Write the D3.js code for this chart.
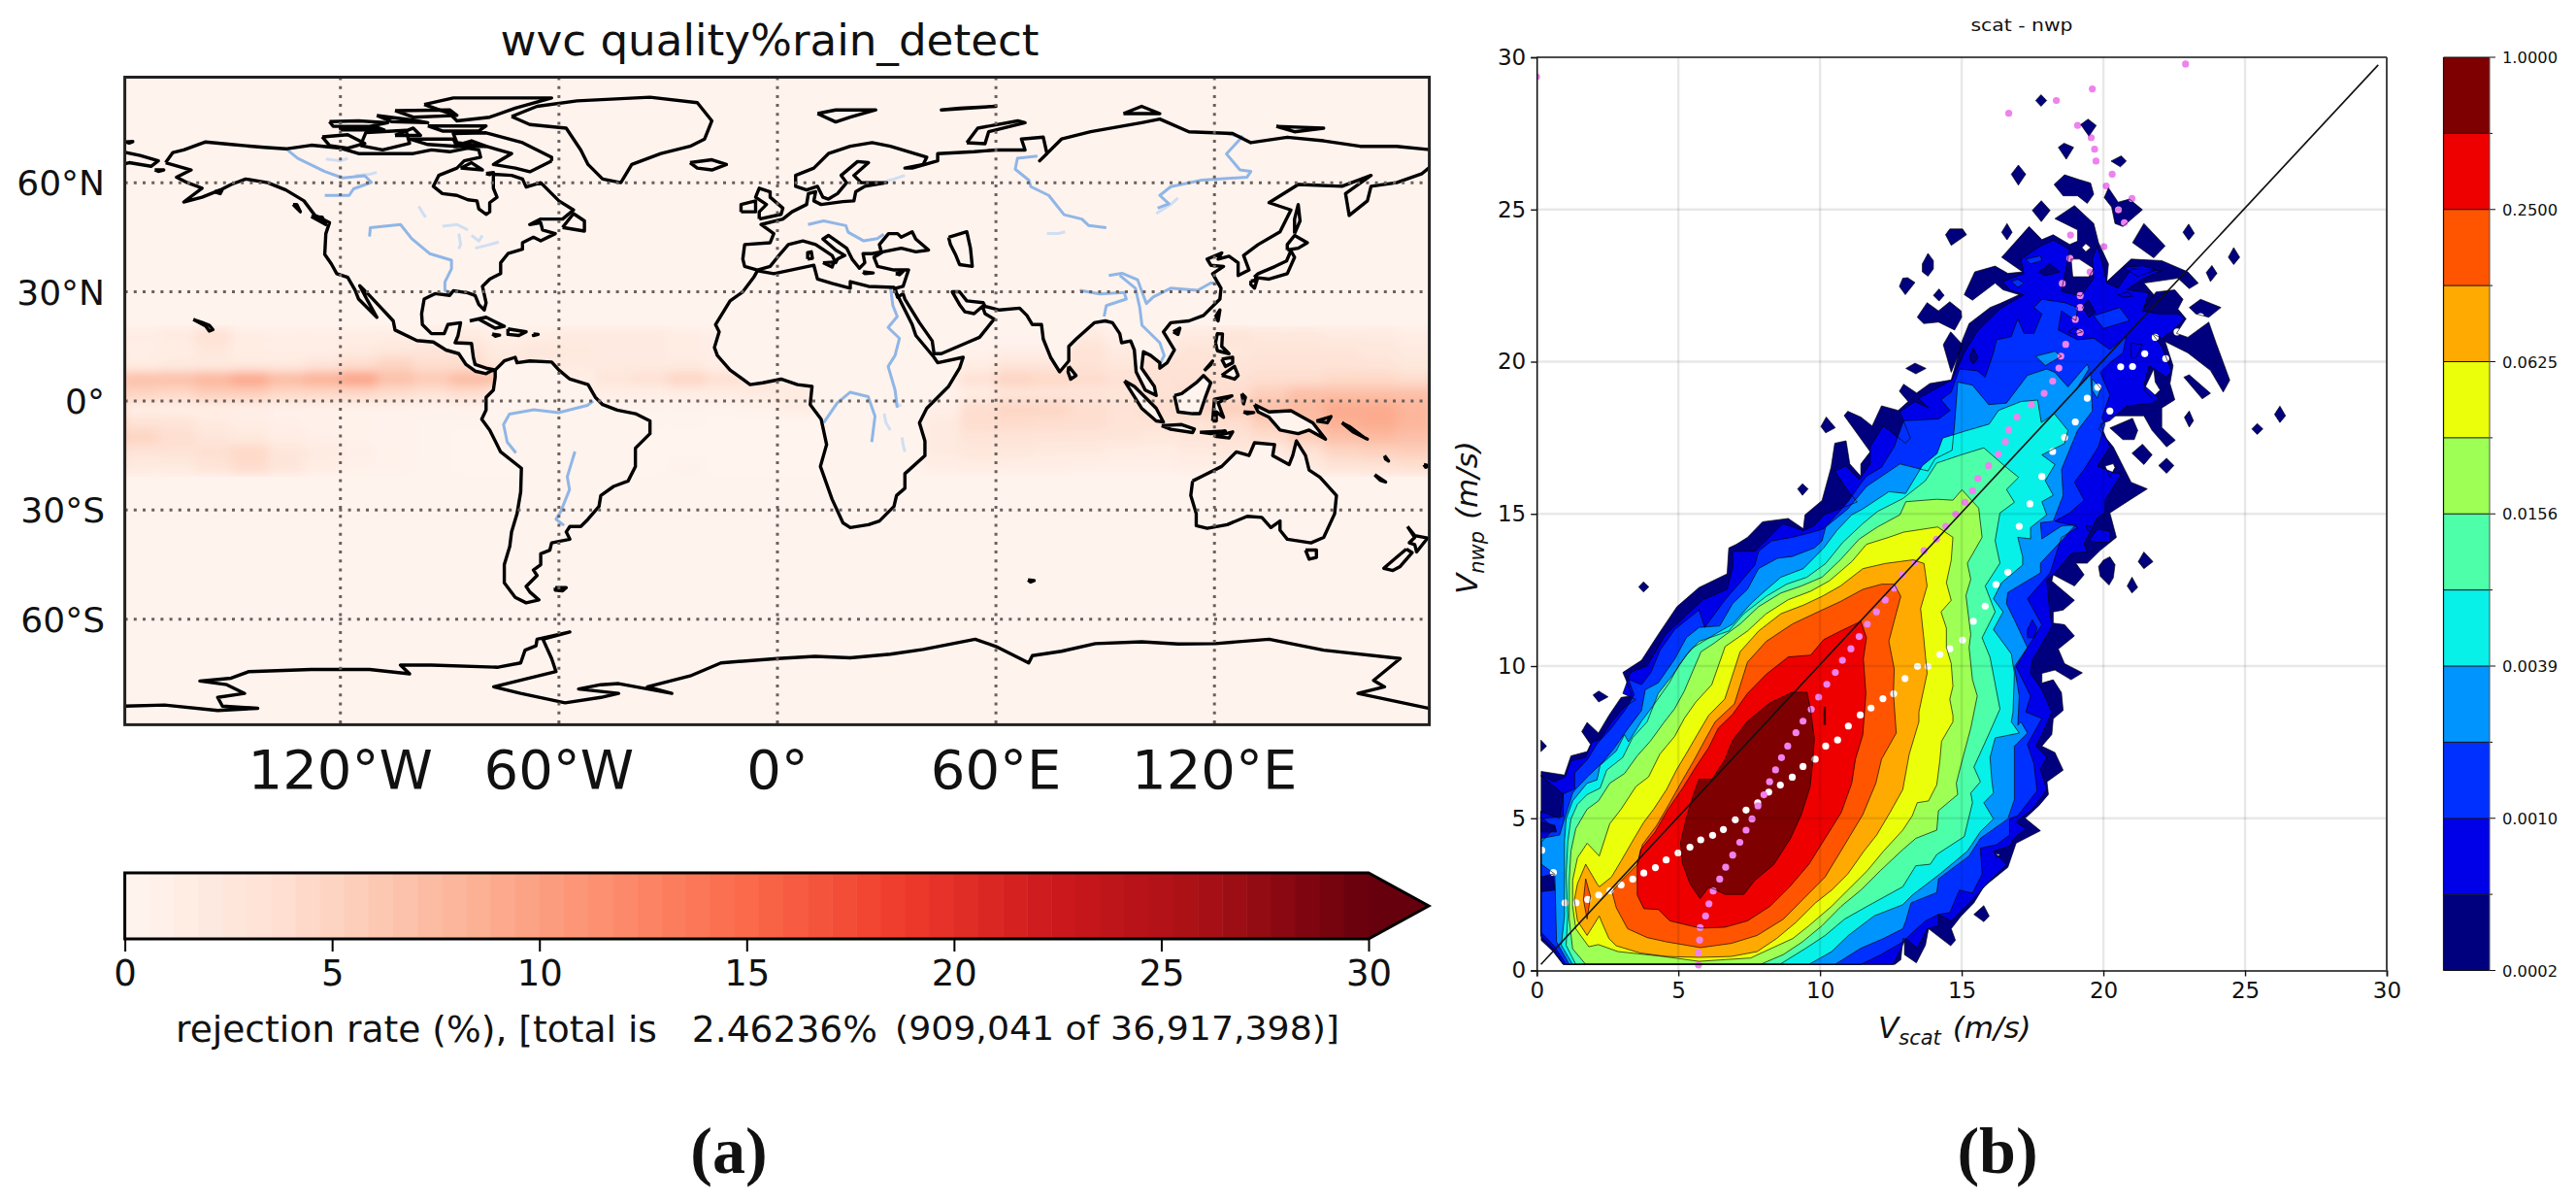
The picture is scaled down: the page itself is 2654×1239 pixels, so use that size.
<!DOCTYPE html>
<html>
<head>
<meta charset="utf-8">
<title>rain detect rejection and scat - nwp density</title>
<script src="https://cdn.jsdelivr.net/npm/d3@7"></script>
<style>
  html, body { margin: 0; padding: 0; background: #fff; }
  svg { display: block; }
  text { font-family: "DejaVu Sans", sans-serif; fill: #111; }
</style>
</head>
<body>
<svg id="chart" width="2654" height="1239"></svg>
<script>
// ---------- panel (a) data ----------
const lonTicks = [-120, -60, 0, 60, 120];
const latTicks = [60, 30, 0, -30, -60];
const rejectTicks = [0, 5, 10, 15, 20, 25, 30];
const redsStops = ["#fff5f0", "#fee0d2", "#fcbba1", "#fc9272", "#fb6a4a", "#ef3b2c", "#cb181d", "#a50f15", "#67000d"];

// rejection rate (%) in 10 degree by 4 degree boxes of the tropical belt
const rateLons = d3.range(-175, 180, 10);
const rateLats = [18, 14, 10, 6, 2, -2, -6, -10, -14, -18];
const rateRows = [
  [1.5,2,3.5,1.5,1.2,1.2,1.5,1.5,2,2,1.2,1.5,2,2,2,1.5,1,.3,.2,.2,.2,.2,.3,.3,.3,.3,2,1,1.2,2,3,2.5,2.5,2,2,1.5],
  [1.2,1.5,2.5,1.5,1.2,1.2,2,2.5,2.8,3.2,2,2.5,2.2,2,2,1.5,1,.3,.2,.2,.2,.2,.3,.6,1,1,3.2,2,2,3,2.5,2.8,2.8,2.8,2.5,2],
  [1.5,2,2,2,2,2.8,4,5,4,4,2.5,2,2,2,2,2,1.2,.6,.2,.2,.2,.2,.6,1.5,2.8,2.8,3.2,2.5,3.2,3.2,3,3.2,3.2,3.2,3,2.4],
  [7,7,8,9.5,7.5,8.5,10,7,6,7.5,7,1.2,1.2,2.8,3.5,4.8,3.8,2.8,1,.2,.2,.3,1,3.5,5,4.5,4.2,3.5,3.5,3.5,3.5,4,4,4.5,4.5,4],
  [5,4.5,5.5,5.5,4.5,4.5,4.5,4,3.2,4,2,.6,1,1.2,1.2,1.5,1.5,2,2,.6,.3,.3,.6,1.5,2.8,2.8,2.8,2.8,3.2,4,4,5.5,7,7,7,7],
  [1.2,1.2,1.2,1,.7,.7,.6,.6,.5,.5,.3,.3,.3,.3,.3,.3,.3,.6,1.5,.6,.3,.3,1,4,4.8,4.8,4,3.2,4,4.8,5.5,7,7.5,9,9,8],
  [3.2,3,2,1.5,1,.7,.6,.5,.3,.3,.2,.2,.2,.2,.3,.3,.2,.2,.2,.2,.2,.2,2,4,4.2,4,4,3.2,3.2,3.2,4,5.5,7,8.5,9,8],
  [5,4,2.8,2.2,1.5,1,.6,.5,.3,.2,.2,.2,.2,.2,.2,.2,.2,.2,.2,.2,.2,.3,2,3,3,3,2.8,2.8,2.4,2.8,3.2,4,5.5,7,7.5,7],
  [3,3.2,3.8,4.5,2.8,2,1,.6,.3,.2,.2,.2,.2,.2,.2,.2,.2,.2,.2,.2,.2,.6,2,2.5,2.5,2,2,1.5,1.5,2,2.5,2,3.2,4.8,5.2,5.5],
  [2,2,3,4.2,2.8,1.5,.7,.5,.3,.2,.2,.2,.2,.2,.2,.5,.2,.2,.2,.2,.2,.3,1.2,1.5,1.2,1.2,1,1,1,1.2,1.2,1,2,3,3.2,3.8]
];

// coastlines, lon/lat
const northAmerica = [[-168,65.5],[-166,68.3],[-163,69],[-157,71.2],[-150,70.5],[-141,69.7],[-135,69.3],[-128,70.3],[-120,69.5],[-115,68],[-108,68],[-100,68],[-95,69],[-90,68.5],[-85,69.5],[-82,69],[-81.5,67],[-86,66],[-88,64],[-93,62],[-94.5,59],[-92,57],[-88,56.5],[-85,55.3],[-82.5,55],[-82,52.8],[-80,51.3],[-79,52],[-79,54.5],[-77,56],[-78,58.5],[-78,62.3],[-73,62],[-70,61],[-69,58.8],[-65,60],[-62,57],[-60,55],[-56,52.5],[-59,50],[-65,50],[-68,48.5],[-65,49],[-64.5,47],[-61,46],[-65,44],[-67,45],[-70,43.5],[-70,41.7],[-74,40.5],[-76,38],[-76,35],[-79,33.5],[-81,31.5],[-80,27],[-80.5,25],[-82,26.5],[-83,29],[-85,29.7],[-89,30.3],[-90,29],[-94,29.5],[-97,28],[-97.7,24],[-97.5,21],[-95,18.5],[-91.5,18.5],[-90.5,21],[-87,21.5],[-87.7,18],[-88.5,16],[-84,15.8],[-83.5,12],[-83,10],[-80,9],[-77.5,8.5],[-78.5,8.3],[-80,7.5],[-83,8.2],[-85.5,10],[-87.5,13],[-91,14],[-94.5,16.2],[-99,16.6],[-105,19.5],[-105.5,22],[-109,25.8],[-112.5,29.5],[-114.7,31.7],[-112.5,27.5],[-110,23],[-112,25],[-115,28],[-116,30.5],[-118,34],[-121,35],[-122.5,37.7],[-124.3,40.3],[-124,46],[-123,49],[-127,51],[-130,55],[-135,58],[-140,60],[-146,61],[-150,59.5],[-153,58],[-158,56],[-163,54.7],[-158,58.5],[-162,60],[-165,61.5],[-161,63.5],[-168,65.5]];
const southAmerica = [[-77.5,8.5],[-75,11],[-72,12],[-71.5,10.5],[-68,11],[-62,10.7],[-60,8.5],[-57,6],[-52,4.5],[-50,1],[-48,-1],[-44,-2.5],[-39,-3.5],[-35,-5.5],[-35,-9],[-39,-13],[-39,-18],[-41,-22],[-45,-23.5],[-48.5,-26],[-49,-29],[-52,-32.5],[-54,-34.5],[-57,-34.5],[-58,-36],[-57,-38],[-62,-39],[-62.5,-41],[-65,-42],[-65,-45],[-67,-46.5],[-66,-48],[-69,-51],[-68,-52.5],[-65.5,-54.7],[-69,-55.5],[-72,-54],[-75,-50],[-75,-45],[-73.5,-40],[-73,-36],[-71.5,-31],[-70.5,-25],[-70.3,-18.5],[-76,-14],[-79,-8],[-81.2,-5],[-80,-2.5],[-80,1],[-78,3],[-77.5,6.5],[-77.5,8.5]];
const greenland = [[-73,78.2],[-66,81],[-55,82.5],[-35,83.5],[-22,82],[-18,77],[-20,72],[-24,70],[-32,68],[-40,65],[-43,60],[-48,61],[-52,65],[-54,69],[-58,75],[-68,76],[-73,78.2]];
const eurasia = [[-5.5,36],[-9,37],[-9.5,39],[-9,43],[-2,43.5],[-1,46],[-4.5,48.5],[1.5,50],[4,52],[8,54],[8.5,57],[10.5,57.5],[10,55],[12,54],[18,54.8],[21,55],[21.5,57.5],[24,59],[30,60],[23,60],[21,62],[25,65.5],[22,65.8],[17.5,62],[19,60],[16.5,57],[14,55.5],[12.5,56],[11,59],[8,58],[5,59],[5,62],[10,64],[14,68],[20,70],[26,71],[31,70],[41,67],[40,65],[35,64],[37,64],[44,66],[44,68],[54,68.5],[60,69],[68,69],[67,72],[73,72.5],[74,68],[72,66],[78,72],[86,74],[100,76.5],[105,77.5],[113,74],[125,73.5],[130,71],[140,72.5],[150,71.5],[160,70],[170,70],[180,69],[180,65],[177,62.5],[170,60],[163,59],[162,55],[157,51],[156,57],[163,62],[155,59],[143,59.5],[135,54.5],[141,52.5],[138,46.5],[132,43],[128,40],[129.5,36],[126.5,34.5],[126.5,38],[124,39.8],[121,39],[122,40.7],[118,39],[119,37.3],[122.5,37],[119.5,35],[121.8,31],[121.5,28],[117,23.5],[113,22],[108,21.5],[106,19],[109,14],[107,10.5],[105,9],[105,10.5],[102.5,12.5],[100.5,13.5],[100,9],[103.5,4],[104,1.5],[101,3],[98.5,8],[98,14],[97,16.5],[94.5,16],[94,18.5],[92,21.5],[90,22],[87,21.5],[82,17],[80,15],[80,11],[77.5,8],[75,12],[73,17],[72.5,21],[70,21],[68.5,23.5],[66.5,25.5],[61,25],[57,26],[56.5,27],[52,27.5],[50,30],[48,30],[50,26.5],[51.5,24.5],[54,24],[56.3,26],[57,24],[59.5,22.5],[55.5,17.5],[52,16],[45,13],[43,13],[42.5,16.5],[39,21.5],[35,28],[34.5,29.5],[33,28.5],[32.5,30],[32.5,31],[34.5,31.5],[36,36],[32,36],[27.5,37],[26.5,39.5],[29,41],[34,42],[38,41],[41.5,41.5],[38,44.5],[37,46.5],[34,45],[33,46],[30.5,46],[28,43],[28.5,41],[26,40.5],[23.5,40.5],[24,38],[22.5,36.5],[20.5,39],[19,42],[14,45.5],[12.5,44.5],[16,41.5],[18.5,40],[16.5,39],[16,38],[15,40],[10.5,43],[7,44],[3,43],[0,39.5],[-2,37],[-5.5,36]];
const chukotka = [[-180,68.5],[-175,67.5],[-170,66],[-172,64.5],[-178,65.5],[-180,65]];
const africa = [[-5.5,35.8],[-1,35],[10,37.3],[11,33.5],[15,32.3],[20,31],[20,32.8],[25,31.5],[32,31.2],[32.5,30],[34,27],[37,21],[38,18],[43,12],[44,10.5],[51,12],[50,9],[47,4],[41,-2],[39,-6],[40.5,-11],[40.5,-15],[35,-20],[35,-24],[32.7,-26],[32,-29],[28,-33],[25,-34],[20,-34.8],[18,-33.5],[15,-27],[11.8,-18],[13.5,-12],[12,-5],[9,-1],[9.5,4],[5.5,4.5],[1,6],[-4,5],[-7.5,4.5],[-13,8.5],[-16.5,12.5],[-17.3,14.7],[-16,19],[-17,21],[-13,27.5],[-9.5,30],[-6.5,34],[-5.5,35.8]];
const australia = [[114,-22],[113.5,-26],[115,-31],[115,-34.3],[118,-35],[123.5,-34],[129,-31.7],[133,-32],[135.5,-34.8],[138,-33],[138,-35.5],[140,-38],[146.5,-39],[150,-37.5],[153,-31],[153.5,-26],[149,-21],[146,-19],[145,-15],[142.5,-11],[141.5,-15],[140.5,-17.5],[136,-15],[136.5,-12],[131,-11.5],[129.5,-15],[126,-14],[122,-18],[117,-20.5],[114,-22]];
const antarctica = [[-179.2,-83.9],[-168.3,-83.6],[-153.7,-85.1],[-142.7,-84.5],[-152.4,-83.9],[-153.7,-81.5],[-146.3,-80.4],[-151.2,-78],[-158.6,-77],[-150,-76.2],[-145.1,-74.4],[-128,-73.8],[-112,-73.8],[-101,-75],[-103.5,-72.6],[-95,-72.6],[-76.7,-73.2],[-70.5,-72],[-69.3,-68.5],[-66.3,-67.3],[-66,-65.5],[-57,-63.5],[-64.4,-65.5],[-62,-70.8],[-60.8,-74.4],[-77.9,-78.6],[-70.5,-80.4],[-58.3,-83],[-48.5,-81.5],[-43.6,-80.4],[-54.6,-79.2],[-48.5,-78],[-43.6,-77.7],[-29,-80.4],[-35.7,-78.6],[-24,-75.6],[-15.5,-72],[0,-70.8],[10.3,-70.2],[20,-70.6],[31,-69.6],[40,-68.3],[54.3,-65.5],[60,-67.5],[69,-72],[70,-70],[78,-68.8],[87.3,-66.7],[100,-66.2],[110,-66.8],[120.3,-66.7],[135,-65.5],[150,-68.5],[171,-70.8],[163.7,-76.8],[166.7,-78.6],[159.4,-80.4],[179,-84.5]];
const islands = [
  [[-62,66],[-68,63],[-72,64],[-78,65],[-73,68],[-80,70],[-88,71],[-89,73.5],[-80,73.7],[-70,71],[-62,67],[-62,66]],
  [[-97,81.5],[-89,83.3],[-62,83.3],[-72,80.5],[-79,78],[-88,77],[-90,79],[-97,81.5]],
  [[-114.5,70.2],[-113,73.8],[-102,74.4],[-101,70.8],[-108.4,69],[-114.5,70.2]],
  [[-125,72.6],[-118,73.2],[-113.3,70.8],[-118,69.5],[-123,70.2],[-125,72.6]],
  [[-123,76.8],[-115,77],[-107,76.5],[-112,75.5],[-122,75.5],[-123,76.8]],
  [[-96,75.6],[-80,75.6],[-82,74.2],[-92,74.2],[-96,75.6]],
  [[-101,72],[-89,72],[-88,70],[-96,70.5],[-101,72]],
  [[-105,79.8],[-90,80],[-88,78.5],[-100,78],[-105,79.8]],
  [[-110,78.5],[-100,77.2],[-96,76.5],[-106,76.8],[-110,78.5]],
  [[-120,74.5],[-108,74.5],[-110,75.2],[-120,75.2],[-120,74.5]],
  [[-105,73],[-98,73],[-100,75],[-105,73]],
  [[-89,70],[-80,70],[-84,71.5],[-89,70]],
  [[-87,64],[-81,63.5],[-84,65.5],[-87,64]],
  [[-80,62.5],[-78,62.8],[-79,62.2],[-80,62.5]],
  [[-59,47.7],[-53,46.7],[-53,49.5],[-56,51.5],[-59,47.7]],
  [[-128,50.7],[-124,48.5],[-125,50.5],[-128,50.7]],
  [[-133,54],[-131,52],[-132,54],[-133,54]],
  [[-84.5,22],[-80,23],[-75,20.5],[-77.5,20],[-82,22.5],[-84.5,22]],
  [[-74,19.8],[-69,19],[-71,18],[-74,18.3],[-74,19.8]],
  [[-67,18.4],[-65.7,18.3],[-67,18],[-67,18.4]],
  [[-78.3,18.4],[-76.3,18.1],[-77.5,17.8],[-78.3,18.4]],
  [[-160.4,22.4],[-158,21.6],[-156,20.8],[-155,19.6],[-156,19.2],[-157,20.6],[-160.4,22.4]],
  [[-61,-51.3],[-58,-51.3],[-59,-52.2],[-61,-52],[-61,-51.3]],
  [[-154.5,57.5],[-152.5,58],[-153,57],[-154.5,57.5]],
  [[-171,63.5],[-168.5,63.5],[-170,63.1],[-171,63.5]],
  [[-179,71.2],[-177,71.3],[-178,70.9],[-179,71.2]],
  [[-5,50],[1,51.3],[1.5,53],[-2,56],[-2,57.5],[-5,58.5],[-6,56],[-3,54],[-5,52],[-5,50]],
  [[-10,52],[-6,52],[-6,55],[-10,54],[-10,52]],
  [[-24,65.5],[-18,66.3],[-14,65],[-18,63.5],[-22,64],[-24,65.5]],
  [[11,79],[16,80],[27,80],[20,78],[16,76.7],[11,79]],
  [[52,71],[57,70.7],[58,74],[68,76.5],[66,77],[55,75],[52,71]],
  [[95,79],[105,79],[100,81],[95,79]],
  [[137,75.5],[150,75],[142,74],[137,75.5]],
  [[50,80.5],[60,81],[45,80],[50,80.5]],
  [[8.3,39],[9.6,39.2],[9.3,41],[8.3,40.8],[8.3,39]],
  [[12.5,38],[15.5,38.2],[15,36.8],[12.5,38]],
  [[23.5,35.5],[26.3,35.2],[24,35],[23.5,35.5]],
  [[32.5,35],[34.5,35.6],[33.5,34.7],[32.5,35]],
  [[80,9.5],[82,7],[80.5,6],[79.8,8],[80,9.5]],
  [[130.9,34],[135,33.5],[140,35],[142,39.5],[141,41.3],[139.8,38.5],[136.7,37],[132,35],[130.9,34]],
  [[140,41.5],[143,42],[145.5,43.5],[142,45.5],[140,43],[140,41.5]],
  [[130,33],[131.7,33.3],[131,31],[130,32],[130,33]],
  [[142,46],[143.5,49.5],[143,54],[142,50],[142,46]],
  [[120.2,23],[121.5,25],[121,22],[120.2,23]],
  [[108.7,19],[110.5,20],[110,18.3],[108.7,19]],
  [[120.3,16],[120.8,18.5],[122.2,18.4],[122,15],[124,13],[120.8,13.8],[120.3,16]],
  [[122,7],[125.5,9.5],[126.5,7],[125.5,6],[124,6.5],[122,7]],
  [[122,11.5],[125,12],[125,10.5],[123,9.5],[122,11.5]],
  [[117.2,8.3],[119.5,11],[119,10],[117.2,8.3]],
  [[109,1.5],[111,2],[115,5],[117,7],[119,5],[117.5,1],[116,-3.5],[114,-3.5],[110,-3],[109,1.5]],
  [[95.3,5.5],[98,4],[104,-2],[106,-5.8],[104,-5.5],[100,-2],[95.3,5.5]],
  [[105.5,-6.8],[111,-6.5],[114.5,-7.7],[114,-8.7],[108,-7.8],[105.5,-6.8]],
  [[119.5,-5.5],[120,.5],[124.8,1.4],[121,-.5],[122.5,-4.5],[120.5,-3],[120.5,-5.5],[119.5,-5.5]],
  [[127.5,2],[128.5,1],[128,-.8],[127.5,2]],
  [[128,-3],[130.8,-3.2],[129,-3.5],[128,-3]],
  [[116,-8.6],[119,-8.5],[123,-8.3],[119,-9],[116,-8.6]],
  [[120,-9.7],[125,-8.5],[124,-10.2],[120,-9.7]],
  [[131,-1],[135,-3],[141,-2.7],[147,-6],[150.5,-10.5],[146,-8],[143,-9],[138,-8],[135,-4.5],[132,-3],[131,-1]],
  [[148,-5.5],[152,-4.3],[151,-6],[148,-5.5]],
  [[155,-6],[157,-7],[161,-10],[162,-10.5],[158,-8.5],[155,-6]],
  [[166.7,-15],[167.8,-16.5],[167,-16],[166.7,-15]],
  [[164,-20.3],[167,-22.3],[165.5,-21.8],[164,-20.3]],
  [[177.5,-17.5],[178.8,-17.8],[178,-18.2],[177.5,-17.5]],
  [[145,-41],[148,-41],[148,-43],[146,-43.5],[145,-41]],
  [[173,-34.5],[175,-37],[178.5,-37.7],[175.5,-41.5],[175,-39.5],[173.5,-39],[175,-37.5],[173,-34.5]],
  [[172.7,-40.7],[174.3,-41.7],[171,-45.5],[169,-46.6],[166.5,-46],[170,-43],[172.7,-40.7]],
  [[68.8,-49.2],[70.5,-49.4],[69.5,-49.8],[68.8,-49.2]],
  [[47,45],[52,46.5],[53,42],[53.5,37],[50,37.5],[49,40],[47.5,43],[47,45]]
];
const coastlines = [northAmerica, southAmerica, greenland, eurasia, chukotka, africa, australia, antarctica].concat(islands);

const rivers = [
  [[-135.3,69.6],[-131.7,66.7],[-124.3,63.1],[-119.4,61.3],[-113.3,61.9],[-111.5,60.1],[-116.4,58.3],[-117.6,56.5],[-124.3,56.5]],
  [[-112,45.2],[-111.8,47.6],[-103.5,48.5],[-100.4,44.6],[-95.5,40.5],[-89.5,38.7],[-89.5,36.3],[-91.3,32.7],[-91.3,30.4],[-89.5,29.8]],
  [[-50.6,0],[-52.2,-1.2],[-60.1,-3.2],[-66.9,-2.4],[-73.6,-3.6],[-75.2,-6.5],[-74.2,-11.3],[-71.8,-14.3]],
  [[-55.6,-13.9],[-57.7,-20.8],[-57.1,-24.4],[-59.5,-30.4],[-60.8,-32.5],[-58.6,-34.2]],
  [[8.4,48.5],[12.7,49.5],[18.8,48.2],[19.4,46.4],[23.7,44],[27.4,44.6],[29.2,45.8]],
  [[31,31.5],[31.7,26.2],[32.9,23.2],[30.4,20.2],[33.5,17.2],[32.3,12.5],[30.4,9.5],[32.3,3],[32.9,-1.8]],
  [[12.7,-6],[16.4,-.6],[20,2.4],[24.9,1.2],[26.8,-4.2],[25.9,-11.3]],
  [[71.4,67.3],[65.9,66.7],[65.3,63.7],[69,60.7],[69.6,58.9],[74.5,56.5],[78.7,51.2],[83.6,50],[85.5,48.2],[90.3,47.6]],
  [[123.3,73.5],[127.6,72.6],[123.3,67.9],[127,63.5],[130,63.1],[128.9,61.5],[116.6,60.7],[108,58.9],[105,56.5],[107.5,54.2],[104.4,53]],
  [[121.5,32.1],[119.1,32.5],[115.4,30.4],[108,31],[103.2,28.6],[101.3,26.8],[98.9,33.3],[94.6,35.1],[91,34.5]],
  [[94,34.5],[98.3,31],[99.5,25.6],[100.1,20.8],[105,16],[106.2,12.5],[105,10.1]],
  [[83,30.4],[88.5,29.4],[95.2,29.8],[95.8,28],[90.3,26.2],[89.7,23.2]]
];
const lakes = [
  [[-124,66.5],[-120,66],[-118,66.7]],
  [[-116,62],[-112,62.3],[-110,62.8]],
  [[-98.5,53.5],[-97,51],[-96.5,50.5]],
  [[-92,48],[-88,48.5],[-85,47]],
  [[-87.5,46],[-87,43],[-87.5,41.8]],
  [[-84,45.5],[-82,44],[-81,45.5]],
  [[-83,42],[-79,43],[-76.5,43.7]],
  [[30,60.5],[32,61],[35,62]],
  [[104,51.5],[108,54],[110,55.8]],
  [[74,46],[77,46],[79,46.5]],
  [[29.3,-3.5],[29.8,-6],[31,-8]],
  [[34.2,-10],[34.5,-12],[35,-14]],
  [[32,0],[33,-1.5],[34,-1]]
];

// ---------- panel (b) data ----------
const levelTicks = ["0.0002", "0.0010", "0.0039", "0.0156", "0.0625", "0.2500", "1.0000"];
const levelColors = ["#00007f", "#0000e8", "#0030ff", "#0094ff", "#07f1e8", "#4effaa", "#9eff55", "#ebff0a", "#ffaa00", "#ff5500", "#ee0000", "#7f0000"];

// filled contour outlines as [V_scat, V_nwp], lowest level first
const level1 = [[.16,.99],[.16,6.54],[.98,6.42],[1.21,7.05],[1.78,7.19],[1.9,7.43],[1.59,7.85],[1.78,8.15],[2.18,7.8],[2.55,8.38],[2.98,8.97],[3.36,9.02],[3.15,9.55],[3.04,9.79],[3.7,10.19],[4.29,11.04],[4.95,11.95],[5.73,12.58],[6.72,13.03],[6.78,13.88],[7.05,14],[7.44,14.23],[7.97,14.74],[8.88,14.85],[9.41,14.51],[9.47,14.97],[10.07,15.44],[10.39,16.53],[10.52,17.32],[10.92,17.4],[11.05,16.64],[11.44,16.24],[11.44,16.64],[11.77,17.04],[10.85,18.23],[10.98,18.37],[11.44,18.18],[11.84,17.89],[12.17,18.55],[12.76,18.4],[13.11,18.69],[12.8,19.03],[12.95,19.26],[13.41,18.97],[13.87,19.28],[14.63,19.4],[15.03,20.72],[15.26,21.25],[16,21.78],[16.35,21.91],[17.03,22.2],[16.46,22.36],[16.18,22.58],[15.38,22.02],[15.09,22.2],[15.46,22.95],[16.18,23.14],[16.63,22.9],[17.15,22.95],[16.41,23.43],[17.38,24.44],[17.83,24.01],[18.23,24.17],[18.81,23.85],[19.09,23.96],[19.09,24.33],[18.29,24.7],[18.98,25.13],[19.66,24.54],[19.83,23.91],[20.18,23.21],[20.12,22.63],[20.98,23.37],[22.06,23.32],[22.98,22.95],[23.35,22.58],[23.03,22.4],[22.63,22.74],[21.43,22.58],[21.78,22.2],[21.43,21.78],[21.86,22.29],[22.52,22.36],[22.81,22.05],[22.63,21.73],[22.92,21.41],[22.58,20.93],[22.98,20.8],[23.72,21.3],[23.98,20.61],[24.46,19.39],[24.23,19],[23.78,19.71],[22.98,20.29],[22.18,20.66],[22.46,19.87],[22.35,19.28],[22.52,18.75],[22.06,18.48],[22.06,17.84],[22.54,17.42],[22.23,17.2],[21.72,17.74],[21.43,18.22],[20.23,18.22],[19.83,17.79],[20.35,17.2],[20.69,16.57],[20.98,16.04],[21.55,15.82],[20.92,15.45],[20.23,15.03],[20.46,14.23],[19.89,13.8],[19.43,13.38],[19.03,13.38],[19.32,13],[18.98,12.63],[18.23,13],[18.18,12.79],[18.98,12.16],[18.58,11.84],[18.23,11.78],[18.23,11.41],[18.63,11.36],[18.98,10.99],[18.41,10.56],[18.63,10.08],[19.26,9.78],[18.86,9.55],[18.29,9.87],[17.83,9.76],[17.83,9.44],[18.23,9.55],[18.52,9.13],[18.58,8.54],[18.23,8.27],[18.18,7.75],[17.83,7.37],[18.29,7.16],[18.58,6.58],[18.01,6.2],[18.06,5.78],[17.72,5.41],[17.24,5],[17.78,4.59],[16.92,4.18],[16.63,3.39],[15.78,2.75],[15.43,2.22],[14.98,1.79],[14.63,1.37],[14.78,.99],[14.61,.81],[13.83,1.37],[13.72,.83],[13.4,.25],[12.98,.52],[12.98,1.05],[12.93,1.05],[12.85,.35],[12.64,.2],[.93,.2],[.58,.62]];
const level2 = [[.14,1.14],[.14,5.23],[.81,5],[.94,5.8],[.14,6.4],[.62,6.2],[1.01,6.37],[1.21,6.89],[1.73,7],[1.96,7.51],[2.24,7.59],[2.64,8.17],[3.1,8.65],[3.5,8.9],[3.04,9.1],[3.31,9.79],[3.9,10.01],[4.55,11.04],[5.21,11.61],[5.87,12.18],[6.72,12.52],[6.92,13.26],[6.92,13.77],[7.7,13.77],[8.69,14.68],[9.41,14.45],[9.8,14.62],[10.13,14.97],[11.31,15.39],[10.92,15.84],[10.52,16.41],[10.92,16.58],[11.38,16.13],[11.77,16.64],[11.77,17.21],[12.23,17.89],[13.02,17.32],[13.19,17.49],[12.82,18.35],[13.35,18.69],[13.84,18.48],[13.48,18.8],[14.66,19.4],[15.09,20.29],[15.55,21],[16.35,21.73],[17.2,22.2],[16.69,22.36],[16.46,22.63],[17.2,22.9],[17.09,23.37],[17.78,23.8],[18.23,23.99],[18.81,23.69],[18.69,23.11],[18.52,22.31],[19.21,22.15],[19.66,22.74],[19.61,23.37],[19.78,23.8],[19.95,23.27],[20.12,22.58],[20.52,22.42],[20.98,23.05],[22.06,23],[21.43,22.74],[20.81,22.37],[21.61,22.26],[21.38,21.67],[21.95,21.57],[22.63,21.57],[22.86,21.41],[22.46,21.03],[22.06,20.77],[21.72,20.93],[22.06,20.5],[22.4,19.71],[22.23,19.49],[21.61,19.87],[21.43,19.23],[21.95,18.8],[21.72,18.64],[20.81,18.54],[20.23,18.06],[19.89,17.95],[20.23,17.2],[19.78,16.57],[20.35,16.36],[20.63,16.3],[20.06,15.45],[20.06,15.03],[19.78,14.87],[19.32,14.02],[19.43,13.75],[18.86,13.7],[18.29,13.06],[18,12.85],[18.06,12.21],[18.18,11.3],[17.89,10.83],[17.49,10.19],[17.43,9.76],[17.83,9.23],[18.18,8.49],[17.83,7.75],[17.61,7.37],[18.01,7],[17.78,6.63],[18,5.94],[17.49,5.3],[16.92,4.88],[17.26,4.66],[16.83,4.34],[16.69,4.08],[16.12,3.92],[16.58,3.49],[16,2.96],[15.6,2.54],[14.8,1.79],[14.63,1.63],[14.18,1.84],[14.18,1.47],[13.78,1.37],[13.43,.73],[13.03,1.05],[12.58,.2],[.94,.2],[.62,.68]];
const level3 = [[.62,.8],[.16,1.25],[.16,4.21],[.62,4.67],[.22,5],[.94,5.06],[.94,5.8],[1.34,5.97],[1.34,6.49],[1.8,6.94],[2.13,7.45],[2.59,7.91],[3.11,8.54],[3.44,9.05],[3.24,9.56],[3.7,9.39],[4.03,9.79],[4.36,10.53],[4.88,11.21],[5.73,11.84],[5.93,11.27],[6.65,12.18],[7.18,12.75],[7.7,13.32],[7.83,13.77],[8.29,14.11],[9.02,14.23],[9.74,14.4],[10.13,14.51],[10.98,15.39],[11.45,16.01],[11.64,16.24],[12.17,16.53],[12.62,17.21],[12.95,18.06],[14.2,18.12],[14.59,18.4],[14.27,18.75],[14.63,19],[14.92,19.76],[15.55,19.7],[15.83,19.49],[16.12,20.29],[16.23,20.72],[16.75,20.82],[16.98,21.41],[17.2,20.93],[17.55,20.93],[17.83,21.57],[17.55,21.78],[17.83,22.05],[18.63,21.94],[19.09,21.78],[19.03,21.35],[18.52,21.67],[18.41,21.04],[19.09,20.72],[19.66,20.77],[20.23,20.4],[20.81,20.82],[20.69,20.29],[20.23,19.97],[19.89,19.65],[20.23,18.91],[19.95,18.16],[20.06,17.95],[19.83,17.21],[19.32,16.46],[18.98,16.04],[19.32,15.45],[18.81,15.03],[18.29,14.76],[18.98,14.6],[19.09,14.55],[18.52,14.23],[18.12,13.06],[17.32,12.21],[17.83,11.36],[17.32,10.61],[16.92,9.98],[17.43,9.02],[17.26,8.49],[17.83,8.28],[17.32,7.43],[17.55,6.79],[17.66,5.9],[16.98,5.09],[16.69,4.98],[16.69,4.45],[16.23,4.13],[15.66,4.02],[15.72,3.17],[15.38,2.54],[14.92,2.64],[14.58,1.9],[14.18,1.84],[13.72,1.63],[13.15,1.15],[12.93,.94],[12.13,.51],[11.44,.2],[1.04,.2]];
const level4 = [[1.15,.2],[.7,.94],[.64,3.17],[.16,3.49],[.16,4.34],[.81,4.45],[.98,4.98],[1.27,5.83],[1.34,5.92],[1.8,6.37],[2.32,6.83],[2.72,7.28],[3.24,7.97],[3.7,8.54],[3.83,9.22],[4.29,9.45],[4.88,10.24],[5.28,10.93],[5.73,11.27],[6.46,11.32],[6.92,12.06],[7.44,12.52],[7.83,13.2],[8.49,13.54],[9.02,13.6],[9.8,13.88],[10.07,14.11],[10.2,14.57],[10.98,15.16],[11.64,15.9],[12.82,16.64],[13.81,16.41],[14.06,16.81],[14.66,17.09],[14.75,17.95],[14.86,19.33],[15.38,19.23],[15.95,18.59],[16.58,18.64],[17.32,19.55],[18,19.76],[18.29,19.65],[18.75,19.17],[19.43,19.92],[19.49,19.76],[19.03,19.07],[19.55,19.65],[19.61,18.38],[19.09,17.74],[18.52,16.46],[18.58,15.61],[18.23,14.76],[17.78,14.71],[17.83,14.18],[18.52,14.6],[19.03,14.65],[18.52,14.12],[17.78,13.38],[17.78,13.06],[16.63,12.42],[16.58,12.05],[16.86,11.52],[17.32,10.61],[16.86,9.98],[17.03,9.02],[16.98,8.06],[17.09,8.17],[17.32,7.8],[16.86,7.37],[16.86,5.62],[16.63,4.98],[15.66,4.34],[15.26,3.76],[14.18,3.01],[14.12,2.56],[13.21,2.22],[13.03,1.63],[12.92,1.37],[12.24,1.05],[11.44,.73],[10.53,.2]];
const level5 = [[1.27,.2],[.87,.83],[.98,1.79],[.98,4.24],[1.04,4.98],[1.27,5.57],[1.78,6.15],[2.13,6.26],[2.24,6.74],[2.81,7.21],[3.1,7.75],[3.24,7.51],[3.7,8.19],[4.16,8.76],[4.68,9.45],[5.01,10.01],[5.47,10.58],[6.39,11.1],[6.92,11.38],[7.57,12.06],[7.97,12.4],[8.62,12.92],[9.41,13.2],[10.13,13.88],[10.59,14.45],[11.12,14.97],[11.51,15.16],[12.43,15.73],[13.02,15.67],[13.61,16.58],[14.13,16.98],[14.33,17.49],[15.12,17.72],[15.97,17.95],[16.3,18.4],[17.09,18.69],[17.68,18.74],[17.81,18],[18.27,18.29],[18.75,17.74],[18.63,17.31],[17.83,16.94],[18.29,16.62],[17.95,16.09],[18.23,15.61],[17.83,15.4],[18,14.97],[17.43,14.55],[17.43,14.18],[16.98,14.23],[17.15,13.59],[17.15,13.32],[16.41,12.74],[16.12,12.21],[16.46,11.78],[16.12,11.2],[16.75,10.4],[16.86,9.76],[16.81,8.49],[16.75,8.17],[17.03,7.8],[16.18,7.64],[16,7],[16.06,6.26],[16.12,5.83],[15.78,5.51],[16.12,4.98],[15.66,4.56],[15.2,3.92],[14.23,3.17],[13.26,2.48],[12.92,2.16],[11.9,1.79],[11,1.15],[10.41,.62],[9.61,.2]];
const level6 = [[1.38,.2],[1.04,.83],[1.1,1.79],[1.04,3.17],[1.1,4.24],[1.21,4.98],[1.44,5.46],[1.78,5.78],[2.24,5.99],[2.47,6.58],[3.04,7],[3.38,7.64],[3.9,8.17],[4.29,9.1],[4.82,9.73],[5.28,10.36],[5.73,10.81],[6.78,11.15],[7.31,11.72],[8.1,12.29],[8.82,12.69],[9.54,12.92],[10.2,13.37],[10.79,14.05],[11.51,14.68],[12.03,15.08],[12.92,15.5],[13.72,16.09],[14.12,16.67],[14.98,16.94],[15.78,17.17],[16.52,16.57],[17.01,16.2],[16.58,15.8],[16.86,15.38],[16.35,15.03],[16.18,14.12],[16.35,13.38],[15.83,12.63],[16.18,11.78],[15.72,10.93],[16,10.29],[16.35,8.59],[16,7.85],[15.43,6.68],[15.66,6.2],[15.32,5.83],[15.38,5.51],[15.09,4.4],[14.12,3.81],[13.89,3.49],[13.38,3.44],[12.92,2.75],[11.67,2.11],[10.87,1.69],[10.18,1.15],[9.5,.73],[8.58,.2]];
const level7 = [[1.73,.2],[1.27,.71],[1.15,1.68],[1.15,2.96],[1.21,3.92],[1.38,4.66],[1.78,5.3],[2.18,5.57],[2.58,6.15],[3.1,6.47],[3.55,7.05],[4.01,7.53],[4.47,8.12],[4.87,8.6],[5.21,9.18],[5.8,10.47],[6.26,10.75],[7.18,11.38],[7.83,11.95],[8.62,12.4],[9.34,12.63],[10.07,12.92],[10.72,13.49],[11.38,14.17],[12.03,14.57],[12.82,14.97],[13.03,15.4],[14.12,15.48],[14.69,15.45],[15.01,15.79],[15.6,15.19],[15.72,14.23],[15.2,13.38],[15.32,12.85],[15.15,12.32],[15.32,11.04],[15.26,10.61],[15.38,9.55],[15.55,9.02],[15.32,7.96],[15.03,6.95],[14.81,6.15],[14.86,5.78],[14.18,5.25],[14.12,4.61],[13.38,4.34],[12.92,3.97],[12.13,3.28],[11.44,2.64],[10.75,2.11],[10.07,1.47],[9.38,.94],[8.7,.52],[7.9,.2]];
const level8 = [[1.84,.78],[1.38,1.37],[1.27,2.11],[1.27,2.96],[1.44,3.7],[1.78,4.18],[2.21,3.76],[2.58,4.82],[2.98,5.3],[3.5,6.04],[3.95,6.36],[4.35,7.11],[4.87,7.69],[5.21,8.28],[5.61,8.81],[6.18,9.39],[6.65,10.64],[7.44,11.15],[8.1,11.72],[8.88,12.18],[9.67,12.46],[10.33,12.8],[11.12,13.43],[11.64,14],[12.43,14.23],[12.95,14.4],[14.15,14.57],[14.69,14.23],[14.63,13.48],[14.46,12.74],[14.63,12.16],[14.27,11.78],[14.46,11.25],[14.46,10.61],[14.63,10.08],[14.69,9.34],[14.58,8.91],[14.69,8.38],[14.69,8.17],[14.29,7.53],[14.23,6.9],[14.12,6.1],[13.83,5.57],[13.43,5.51],[13.26,5.09],[12.92,4.61],[12.24,3.92],[11.67,3.28],[10.98,2.64],[10.41,2.11],[9.61,1.47],[9.04,1.05],[7.55,.41],[5.73,.3],[4.47,.46],[2.87,.62],[2.18,.85]];
const level9 = [[2.21,1.79],[1.78,1.15],[1.44,1.63],[1.33,2.32],[1.44,2.85],[1.73,3.49],[2.13,2.85],[2.21,2.75],[2.64,3.07],[2.98,3.6],[3.44,4.34],[3.78,4.87],[4.13,5.3],[4.58,5.94],[4.93,6.58],[5.27,7.11],[5.67,7.75],[6.07,8.38],[6.64,8.92],[7.18,10.47],[7.83,11.15],[8.62,11.72],[9.41,12],[10.07,12.29],[10.72,12.63],[11.51,13.2],[12.3,13.37],[13.28,13.49],[13.67,13.37],[13.78,12.63],[13.55,11.89],[13.66,10.93],[13.78,9.76],[13.49,8.49],[13.49,8.17],[13.15,7.11],[12.92,5.94],[12.47,5.19],[12,4.45],[11.55,3.92],[10.98,3.17],[10.41,2.64],[9.84,2.22],[9.15,1.58],[8.47,1.05],[7.78,.62],[6.87,.46],[5.73,.43],[4.58,.46],[3.67,.57],[2.81,.81],[2.55,1.05],[2.3,1.58]];
const level10 = [[12.17,12.69],[12.62,12.69],[12.85,12.29],[12.62,11.49],[12.43,10.81],[12.62,9.9],[12.59,9.1],[12.69,7.8],[12.17,6.94],[11.97,6.15],[11.51,5.12],[10.87,4.13],[10.18,3.07],[9.38,2.32],[8.7,1.68],[7.78,1.15],[6.87,.89],[5.78,.75],[4.58,.94],[3.9,1.08],[3.21,1.37],[2.81,2.06],[2.66,2.59],[3,2.96],[3.56,3.49],[3.73,4.13],[4.24,4.77],[4.7,5.51],[5.15,6.26],[5.55,6.9],[5.95,7.59],[6.3,8.17],[6.98,8.76],[7.44,10.13],[8.1,10.81],[9.02,11.38],[9.93,11.78],[10.72,12.12],[11.51,12.52]];
const level10b = [[1.73,3.01],[1.9,2.43],[1.78,1.69],[1.65,2.32]];
const level11 = [[11.44,11.47],[11.64,10.93],[11.53,10.24],[11.62,9.1],[11.51,7.74],[11.25,6.94],[11.12,6.15],[10.75,5.19],[10.18,4.34],[9.61,3.49],[8.93,2.75],[8.24,2.11],[7.44,1.63],[6.64,1.42],[5.78,1.39],[4.7,1.63],[4.3,2],[3.78,2.03],[3.55,2.48],[3.55,3.49],[3.67,3.97],[4.18,4.55],[4.64,5.3],[5.15,5.99],[5.61,6.68],[6.07,7.32],[6.41,7.96],[6.92,8.42],[7.44,9.1],[8.1,9.73],[8.88,10.3],[9.67,10.36],[10.13,10.87],[10.72,11.15]];
const level12 = [[5.77,2.36],[5.41,2.85],[5.14,3.53],[5.08,4.21],[5.28,5.01],[5.54,5.8],[5.73,6.28],[6.19,6.28],[6.65,6.94],[6.92,7.57],[7.44,8.19],[8.23,8.79],[9.02,9.14],[9.54,9.14],[9.67,8.54],[9.8,7.62],[9.74,6.83],[9.65,6.03],[9.34,5.12],[8.95,4.32],[8.36,3.47],[7.7,2.96],[7.31,2.5],[6.65,2.5],[6.26,2.67],[6.06,2.73]];
const level12b = [[10.14,8.65],[10.19,8.65],[10.19,8.08],[10.14,8.08]];

// isolated specks at the lowest level
const specks = [
  [[17.61,28.58],[17.8,28.77],[18,28.58],[17.8,28.39]],
  [[19.2,27.79],[19.46,27.97],[19.75,27.76],[19.49,27.41]],
  [[18.41,27.04],[18.61,27.18],[18.95,27.04],[18.69,26.65]],
  [[20.27,26.59],[20.63,26.76],[20.81,26.59],[20.6,26.4]],
  [[16.75,26.16],[17,26.46],[17.26,26.16],[17,25.8]],
  [[18.26,25.82],[18.63,26.14],[19.15,25.98],[19.55,25.87],[19.66,25.5],[19.43,25.2],[19.09,25.45],[18.58,25.45]],
  [[20.03,25.39],[20.18,25.71],[20.52,25.24],[20.92,25.34],[21.38,24.99],[20.69,24.44],[20.41,24.54],[20.29,25.08]],
  [[17.49,24.97],[17.81,25.29],[18.12,24.97],[17.81,24.6]],
  [[16.41,24.25],[16.6,24.54],[16.78,24.25],[16.6,24]],
  [[14.43,24.17],[14.58,24.36],[15.03,24.36],[15.17,24.17],[14.63,23.82]],
  [[13.61,23.21],[13.81,23.56],[14,23.32],[14,23.05],[13.81,22.81],[13.61,22.95]],
  [[12.92,22.74],[13.09,22.76],[13.35,22.6],[13.01,22.2],[12.8,22.47]],
  [[14,22.18],[14.2,22.39],[14.38,22.18],[14.2,21.99]],
  [[13.43,21.46],[13.78,21.94],[14.18,21.67],[14.58,21.97],[14.98,21.67],[15,21.46],[14.75,21.04],[14.18,21.3],[13.66,21.25]],
  [[14.35,20.56],[14.61,20.98],[15.03,20.56],[14.63,19.65]],
  [[13.03,19.78],[13.35,19.95],[13.74,19.78],[13.38,19.6]],
  [[21.03,23.91],[21.43,24.54],[22.18,23.8],[21.78,23.41]],
  [[22.81,24.25],[23.01,24.52],[23.21,24.22],[23.01,23.99]],
  [[24.41,23.43],[24.6,23.75],[24.81,23.43],[24.6,23.19]],
  [[23.63,22.93],[23.83,23.16],[24.01,22.9],[23.78,22.63]],
  [[23.03,21.78],[23.43,22.05],[24.15,21.78],[23.72,21.46],[23.26,21.57]],
  [[22.84,19.49],[23.03,19.57],[23.78,18.96],[23.49,18.78]],
  [[22.86,18.17],[23.03,18.38],[23.18,18.06],[23.03,17.85]],
  [[26.04,18.27],[26.23,18.54],[26.43,18.22],[26.23,18]],
  [[25.24,17.79],[25.43,17.97],[25.63,17.79],[25.43,17.61]],
  [[20.23,17.82],[21.03,18.14],[21.21,17.74],[21.09,17.44],[20.69,17.44]],
  [[21.01,16.99],[21.38,17.29],[21.72,16.94],[21.43,16.62]],
  [[21.95,16.59],[22.23,16.83],[22.49,16.59],[22.23,16.33]],
  [[19.83,13.27],[20,13.48],[20.23,13.59],[20.41,13.33],[20.35,12.9],[20.2,12.66],[19.89,12.95]],
  [[21.23,13.43],[21.43,13.75],[21.75,13.43],[21.43,13.2]],
  [[20.84,12.63],[21.01,12.92],[21.21,12.58],[21.01,12.4]],
  [[15.43,1.84],[15.78,2.13],[15.97,1.79],[15.78,1.6]],
  [[3.6,12.6],[3.77,12.77],[3.96,12.6],[3.77,12.43]],
  [[1.99,9.05],[2.19,9.18],[2.52,8.99],[2.19,8.82]],
  [[.15,7.57],[.35,7.37],[.15,7.19]],
  [[9.21,15.82],[9.38,15.99],[9.58,15.82],[9.38,15.61]],
  [[10.03,17.87],[10.22,18.18],[10.54,17.83],[10.2,17.66]]
];
// gaps inside the lowest level
const holes = [
  [[18.86,23.37],[19.15,23.37],[19.66,23.06],[19.49,22.79],[18.92,22.79]],
  [[19.24,23.75],[19.38,23.88],[19.55,23.75],[19.38,23.61]],
  [[20.98,20.61],[21.38,20.56],[21.15,20.13],[20.98,20.13]],
  [[21.78,19.76],[21.83,19.33],[22,19.07],[21.72,18.8],[21.43,19.07]],
  [[20.52,22.2],[20.86,22.29],[21.03,22.15],[20.69,22.12]],
  [[18.75,20.98],[18.98,21.12],[19.26,20.98],[18.98,20.9]],
  [[20.06,16.57],[20.35,16.65],[20.41,16.52],[20.23,16.2]],
  [[19.38,14.6],[19.55,14.6],[19.46,14.44]],
  [[16.15,3.86],[16.35,3.81],[16.23,3.68]]
];
// small islands of one level on top of another: [level index, outline]
const patches = [
  [0, [[17.72,22.95],[18.12,23.22],[18.46,22.95],[17.95,22.82]]],
  [0, [[15.26,20.13],[15.41,20.45],[15.58,20.13],[15.41,19.92]]],
  [0, [[19.26,21.78],[19.46,22.04],[19.72,21.62],[19.49,21.46]]],
  [0, [[.16,4.87],[.64,4.77],[.7,4.55],[.16,4.55]]],
  [0, [[.16,3.07],[.58,3.17],[.64,2.64],[.16,2.59]]],
  [1, [[17.32,11.2],[17.49,11.52],[17.66,11.25],[17.55,10.93],[17.32,10.93]]],
  [1, [[19.49,14.12],[19.78,14.49],[20.23,14.44],[20.23,14.07],[19.78,14.07]]],
  [1, [[20.7,23.1],[21.4,23.15],[21.9,23.02],[21.2,22.8]]],
  [2, [[19.66,21.51],[20.58,21.78],[20.92,21.35],[20,21.09]]],
  [2, [[16.75,22.63],[16.98,22.71],[17.2,22.58],[16.98,22.44]]],
  [2, [[17.26,23.37],[17.78,23.48],[17.83,23.32],[17.43,23.21]]],
  [3, [[17.61,20.18],[18.29,20.34],[18.52,20.18],[17.95,19.87]]],
  [3, [[19.6,19.44],[19.91,19.12],[19.78,18.8],[19.6,19.07]]]
];

const whiteDots = [[.18,3.95],[.59,3.22],[1,2.22],[1.39,2.22],[1.8,2.33],[2.19,2.48],[2.59,2.62],[2.98,2.81],[3.39,3],[3.78,3.2],[4.19,3.38],[4.57,3.63],[4.99,3.86],[5.41,4.05],[5.79,4.29],[6.21,4.44],[6.59,4.63],[7.01,4.95],[7.39,5.27],[7.8,5.51],[8.19,5.86],[8.6,6.09],[9.02,6.35],[9.4,6.7],[9.83,6.94],[10.2,7.37],[10.62,7.57],[11,8.03],[11.42,8.39],[11.8,8.62],[12.22,8.93],[12.6,9.09],[13,9.59],[13.44,9.99],[13.81,9.99],[14.23,10.38],[14.58,10.57],[15.03,10.85],[15.41,11.47],[15.83,11.97],[16.21,12.68],[16.63,13.08],[17.03,14.59],[17.41,15.33],[17.83,16.23],[18.21,17.05],[18.63,17.51],[19.01,18.02],[19.43,18.8],[19.8,19.16],[20.23,18.38],[20.61,19.83],[21.03,19.84],[21.46,20.26],[21.83,20.8],[22.2,20.1],[22.6,20.98],[23.43,21.48]];
const violetDots = [[5.71,.18],[5.71,.58],[5.75,1],[5.77,1.41],[5.96,1.79],[6.08,2.19],[6.23,2.61],[6.46,3],[6.67,3.39],[6.92,3.79],[7.17,4.21],[7.39,4.61],[7.6,4.98],[7.81,5.41],[8.02,5.77],[8.22,6.2],[8.43,6.59],[8.64,6.99],[8.86,7.37],[9.15,7.81],[9.4,8.19],[9.69,8.58],[9.95,8.98],[10.24,9.4],[10.54,9.79],[10.79,10.19],[11.09,10.57],[11.38,10.97],[11.67,11.38],[11.99,11.78],[12.3,12.17],[12.62,12.56],[12.91,13],[13.35,13.39],[13.67,13.79],[14.11,14.17],[14.44,14.59],[14.79,14.99],[15.12,15.38],[15.38,15.76],[15.57,16.16],[15.95,16.58],[16.29,16.97],[16.54,17.37],[16.66,17.76],[16.95,18.18],[17.46,18.58],[17.91,18.96],[18.21,19.36],[18.43,19.79],[18.5,20.18],[18.67,20.57],[19.18,20.96],[19.01,21.39],[19.18,21.78],[19.18,22.17],[18.55,22.57],[19.53,22.95],[18.82,23.39],[20.02,23.78],[18.84,24.16],[20.74,24.57],[20.53,24.99],[21.01,25.36],[20.1,25.77],[20.31,26.16],[19.74,26.59],[19.69,26.98],[19.57,27.36],[19.09,27.76],[19.61,28.96],[18.34,28.58],[16.66,28.16],[0,29.36],[22.9,29.78]];

const speedTicks = [0, 5, 10, 15, 20, 25, 30];

// ---------- scales ----------
const lonScale = d3.scaleLinear().domain([-179.2, 179]).range([128.6, 1472.6]);
const latScale = d3.scaleLinear().domain([89, -89]).range([79.5, 746.4]);
const rejectScale = d3.scaleLinear().domain([0, 30]).range([128.6, 1410]);
const redsColor = d3.scaleLinear().domain(redsStops.map((d, i) => i * 30 / (redsStops.length - 1))).range(redsStops);
const xScale = d3.scaleLinear().domain([0, 30]).range([1583.2, 2459]);
const yScale = d3.scaleLinear().domain([0, 30]).range([999.5, 59]);
const levelScale = d3.scaleLinear().domain([0, levelColors.length]).range([999.5, 59]);

const svg = d3.select("#chart");
const defs = svg.append("defs");

// ---------- panel (a): map ----------
const mapW = lonScale.range()[1] - lonScale.range()[0];
const mapH = latScale.range()[1] - latScale.range()[0];
defs.append("clipPath").attr("id", "mapClip").append("rect")
  .attr("x", 128.6).attr("y", 79.5).attr("width", mapW).attr("height", mapH);
defs.append("clipPath").attr("id", "beltClip").append("rect")
  .attr("x", 128.6).attr("y", latScale(20.8)).attr("width", mapW).attr("height", latScale(-20.8) - latScale(20.8));
const blur = defs.append("filter").attr("id", "rateBlur")
  .attr("filterUnits", "userSpaceOnUse").attr("x", -200).attr("y", 0).attr("width", 2100).attr("height", 800);
blur.append("feGaussianBlur").attr("stdDeviation", 5.5);

const mapG = svg.append("g").attr("clip-path", "url(#mapClip)");
mapG.append("rect").attr("x", 128.6).attr("y", 79.5).attr("width", mapW).attr("height", mapH)
  .attr("fill", redsColor(0.3));

const geoLine = d3.line().x(d => lonScale(d[0])).y(d => latScale(d[1]));

// tropical belt, wrapped around so the blur does not fade at the map edges
const rateCells = [];
rateRows.forEach((row, r) => row.forEach((v, c) => {
  [-360, 0, 360].forEach(shift => rateCells.push({ lon: rateLons[c] + shift, lat: rateLats[r], v }));
}));
mapG.append("g").attr("clip-path", "url(#beltClip)")
  .append("g").attr("filter", "url(#rateBlur)")
  .selectAll("rect").data(rateCells).join("rect")
  .attr("x", d => lonScale(d.lon - 5))
  .attr("y", d => latScale(d.lat + 2))
  .attr("width", lonScale(5) - lonScale(-5) + 0.5)
  .attr("height", latScale(-2) - latScale(2) + 0.5)
  .attr("fill", d => redsColor(d.v));

// land carries no rejections
mapG.append("g").selectAll("path").data(coastlines).join("path")
  .attr("d", d => geoLine(d) + "Z")
  .attr("fill", redsColor(0.3));

mapG.append("g").selectAll("path").data(lakes).join("path")
  .attr("d", geoLine).attr("fill", "none").attr("stroke", "#cfdff2").attr("stroke-width", 3);
mapG.append("g").selectAll("path").data(rivers).join("path")
  .attr("d", geoLine).attr("fill", "none").attr("stroke", "#8fb6e6").attr("stroke-width", 3)
  .attr("stroke-linejoin", "round");
mapG.append("g").selectAll("path").data(coastlines).join("path")
  .attr("d", geoLine).attr("fill", "none").attr("stroke", "#000").attr("stroke-width", 3.4)
  .attr("stroke-linejoin", "round");

mapG.append("g").selectAll("line").data(lonTicks).join("line")
  .attr("x1", d => lonScale(d)).attr("x2", d => lonScale(d))
  .attr("y1", 79.5).attr("y2", 746.4);
mapG.append("g").selectAll("line").data(latTicks).join("line")
  .attr("y1", d => latScale(d)).attr("y2", d => latScale(d))
  .attr("x1", 128.6).attr("x2", 1472.6);
mapG.selectAll("g line").attr("stroke", "#6a605c").attr("stroke-width", 3).attr("stroke-dasharray", "3,6.2");

svg.append("rect").attr("x", 128.6).attr("y", 79.5).attr("width", mapW).attr("height", mapH)
  .attr("fill", "none").attr("stroke", "#222").attr("stroke-width", 3);

svg.append("text").attr("x", 793).attr("y", 57).attr("text-anchor", "middle")
  .attr("font-size", 44).attr("textLength", 555).attr("lengthAdjust", "spacingAndGlyphs")
  .text("wvc quality%rain_detect");

const lonLabel = d => d === 0 ? "0°" : Math.abs(d) + (d < 0 ? "°W" : "°E");
const latLabel = d => d === 0 ? "0°" : Math.abs(d) + (d > 0 ? "°N" : "°S");
svg.append("g").selectAll("text").data(lonTicks).join("text")
  .attr("x", d => lonScale(d)).attr("y", 812).attr("text-anchor", "middle")
  .attr("font-size", 56).text(lonLabel);
svg.append("g").selectAll("text").data(latTicks).join("text")
  .attr("x", 108).attr("y", d => latScale(d) + 13).attr("text-anchor", "end")
  .attr("font-size", 36).text(latLabel);

// colour bar of panel (a)
const segCount = 51;
const segW = (rejectScale(30) - rejectScale(0)) / segCount;
svg.append("g").selectAll("rect").data(d3.range(segCount)).join("rect")
  .attr("x", i => rejectScale(0) + i * segW).attr("y", 899)
  .attr("width", segW + 0.5).attr("height", 68)
  .attr("fill", i => redsColor((i + 0.5) * 30 / segCount));
const barEnd = rejectScale(30);
svg.append("path").attr("d", `M${barEnd},899L${barEnd + 62},933L${barEnd},967Z`).attr("fill", redsStops[8]);
svg.append("path").attr("d", `M128.6,899H${barEnd}L${barEnd + 62},933L${barEnd},967H128.6Z`)
  .attr("fill", "none").attr("stroke", "#000").attr("stroke-width", 3);
const rejectAxis = svg.append("g").attr("transform", "translate(0,967)")
  .call(d3.axisBottom(rejectScale).tickValues(rejectTicks).tickSize(13).tickPadding(9).tickFormat(d3.format("d")));
rejectAxis.select(".domain").remove();
rejectAxis.selectAll("line").attr("stroke", "#000").attr("stroke-width", 2);
rejectAxis.selectAll("text").attr("font-size", 37).style("font-family", "'DejaVu Sans'").attr("fill", "#111");

svg.append("text").attr("x", 181).attr("y", 1073).attr("font-size", 38)
  .attr("textLength", 723).attr("lengthAdjust", "spacingAndGlyphs")
  .style("white-space", "pre")
  .text("rejection rate (%), [total is   2.46236%");
svg.append("text").attr("x", 922).attr("y", 1071).attr("font-size", 34).attr("fill", "#333")
  .attr("textLength", 458).attr("lengthAdjust", "spacingAndGlyphs")
  .text("(909,041 of 36,917,398)]");

svg.append("text").attr("x", 751).attr("y", 1208).attr("text-anchor", "middle")
  .attr("font-size", 68).attr("font-weight", "bold").style("font-family", "'Liberation Serif', serif").text("(a)");
svg.append("text").attr("x", 2058).attr("y", 1208).attr("text-anchor", "middle")
  .attr("font-size", 68).attr("font-weight", "bold").style("font-family", "'Liberation Serif', serif").text("(b)");

// ---------- panel (b): contours ----------
defs.append("clipPath").attr("id", "plotClip").append("rect")
  .attr("x", 1583.2).attr("y", 59).attr("width", 875.8).attr("height", 940.5);
const plotG = svg.append("g").attr("clip-path", "url(#plotClip)");
const contourLine = d3.line().x(d => xScale(d[0])).y(d => yScale(d[1]));

const shape = idx => outline => ({ outline, color: levelColors[idx] });
const contourShapes = [].concat(
  [level1].concat(specks).map(shape(0)),
  holes.map(outline => ({ outline, color: "#fff" })),
  [level2].map(shape(1)), [level3].map(shape(2)), [level4].map(shape(3)), [level5].map(shape(4)),
  patches.map(p => shape(p[0])(p[1])),
  [level6].map(shape(5)), [level7].map(shape(6)), [level8].map(shape(7)), [level9].map(shape(8)),
  [level10, level10b].map(shape(9)), [level11].map(shape(10)), [level12, level12b].map(shape(11))
);

plotG.append("g").selectAll("path").data(contourShapes).join("path")
  .attr("d", d => contourLine(d.outline) + "Z").attr("fill", d => d.color);

plotG.append("g").selectAll("circle").data(whiteDots).join("circle")
  .attr("cx", d => xScale(d[0])).attr("cy", d => yScale(d[1])).attr("r", 3.6).attr("fill", "#fff");
plotG.append("g").selectAll("circle").data(violetDots).join("circle")
  .attr("cx", d => xScale(d[0])).attr("cy", d => yScale(d[1])).attr("r", 3.6).attr("fill", "#ee82ee");

plotG.append("g").selectAll("path").data(contourShapes).join("path")
  .attr("d", d => contourLine(d.outline) + "Z").attr("fill", "none")
  .attr("stroke", "#000").attr("stroke-opacity", 0.65).attr("stroke-width", 1);

// grid sits faintly on top of the fill
plotG.append("g").selectAll("line").data(speedTicks.slice(1, -1)).join("line")
  .attr("x1", d => xScale(d)).attr("x2", d => xScale(d)).attr("y1", 59).attr("y2", 999.5)
  .attr("stroke", "#000").attr("stroke-opacity", 0.09).attr("stroke-width", 2.5);
plotG.append("g").selectAll("line").data(speedTicks.slice(1, -1)).join("line")
  .attr("y1", d => yScale(d)).attr("y2", d => yScale(d)).attr("x1", 1583.2).attr("x2", 2459)
  .attr("stroke", "#000").attr("stroke-opacity", 0.09).attr("stroke-width", 2.5);

plotG.append("line")
  .attr("x1", xScale(0.15)).attr("y1", yScale(0.2))
  .attr("x2", xScale(29.7)).attr("y2", yScale(29.75))
  .attr("stroke", "#111").attr("stroke-width", 1.6);

const bottomAxis = svg.append("g").attr("transform", "translate(0,999.5)")
  .call(d3.axisBottom(xScale).tickValues(speedTicks).tickSize(6).tickPadding(6));
const leftAxis = svg.append("g").attr("transform", "translate(1583.2,0)")
  .call(d3.axisLeft(yScale).tickValues(speedTicks).tickSize(6).tickPadding(5));
[bottomAxis, leftAxis].forEach(a => {
  a.select(".domain").attr("stroke", "#111").attr("stroke-width", 1.6);
  a.selectAll("line").attr("stroke", "#111").attr("stroke-width", 1.4);
  a.selectAll("text").attr("font-size", 23).style("font-family", "'DejaVu Sans'").attr("fill", "#111");
});
svg.append("line").attr("x1", 1583.2).attr("x2", 2459).attr("y1", 59).attr("y2", 59).attr("stroke", "#111").attr("stroke-width", 1.6);
svg.append("line").attr("x1", 2459).attr("x2", 2459).attr("y1", 59).attr("y2", 999.5).attr("stroke", "#444").attr("stroke-width", 2);

svg.append("text").attr("x", 2083).attr("y", 32).attr("text-anchor", "middle")
  .attr("font-size", 18).attr("textLength", 105).attr("lengthAdjust", "spacingAndGlyphs").text("scat - nwp");

function speedLabel(sel, sub) {
  sel.attr("font-style", "italic").attr("font-size", 31);
  sel.append("tspan").text("V");
  sel.append("tspan").attr("font-size", 21).attr("dy", 7).text(sub);
  sel.append("tspan").attr("dy", -7).attr("dx", 2).text(" (m/s)");
}
speedLabel(svg.append("text").attr("x", 1935).attr("y", 1069), "scat");
speedLabel(svg.append("text").attr("transform", "translate(1522,612) rotate(-90)"), "nwp");

// colour bar of panel (b)
svg.append("g").selectAll("rect").data(levelColors).join("rect")
  .attr("x", 2517.5).attr("width", 47.5)
  .attr("y", (d, i) => levelScale(i + 1)).attr("height", (d, i) => levelScale(i) - levelScale(i + 1))
  .attr("fill", d => d);
const levelEdges = d3.range(levelColors.length + 1);
svg.append("g").selectAll("line").data(levelEdges).join("line")
  .attr("x1", 2517.5).attr("y1", d => levelScale(d)).attr("y2", d => levelScale(d))
  .attr("x2", d => d % 2 === 0 ? 2571 : 2568)
  .attr("stroke", "#111").attr("stroke-width", 1);
svg.append("line").attr("x1", 2517.5).attr("x2", 2517.5).attr("y1", 59).attr("y2", 999.5).attr("stroke", "#111").attr("stroke-width", 1.2);
svg.append("line").attr("x1", 2565).attr("x2", 2565).attr("y1", 59).attr("y2", 999.5).attr("stroke", "#555").attr("stroke-width", 1);
svg.append("g").selectAll("text").data(levelTicks).join("text")
  .attr("x", 2578).attr("y", (d, i) => levelScale(i * 2) + 6)
  .attr("font-size", 16).attr("textLength", 57).attr("lengthAdjust", "spacingAndGlyphs").text(d => d);
</script>
</body>
</html>
